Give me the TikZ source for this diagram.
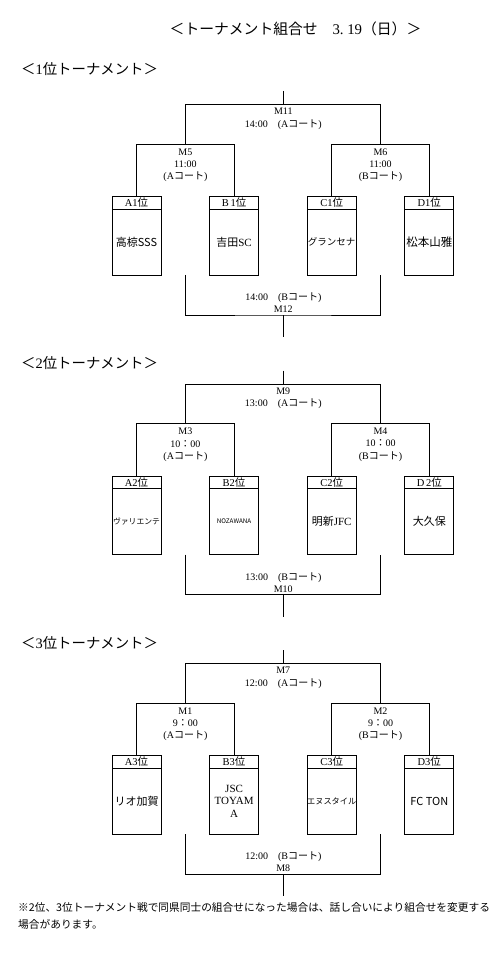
\documentclass[tikz,border=0pt]{standalone}
\usepackage{fontspec}
\setmainfont{Liberation Serif}
\newfontfamily\jpfont{Noto Sans CJK JP}
\newcommand\jp[1]{{\jpfont #1}}
\usetikzlibrary{positioning,calc}
\tikzset{
	bracket/.style={line width=0.9pt},
	teambox/.style={draw,line width=0.9pt,minimum width=49pt,minimum height=78.5pt,
		inner sep=0pt,outer sep=0pt},
	seed/.style={inner sep=0pt,font=\fontsize{10.5}{12}\selectfont},
	team/.style={inner sep=0pt,align=center},
	match/.style={inner sep=0pt,align=center,font=\fontsize{10}{12.3}\selectfont},
	heading/.style={anchor=west,inner sep=0pt,font=\fontsize{14.4}{16}\selectfont},
	note/.style={anchor=north west,inner sep=0pt,align=left,font=\fontsize{10.7}{17.7}\selectfont}
}

\begin{document}
\begin{tikzpicture}[x=1pt,y=-1pt]
	\useasboundingbox (0,0) rectangle (503,957);
	\node[inner sep=0pt,font=\fontsize{14.8}{16}\selectfont] (title) at (295.5,29)
		{\jp{＜トーナメント組合せ　}3.\ 19\jp{（日）＞}};
	\node[heading] (head1) at (21,69) {\jp{＜}1\jp{位トーナメント＞}};
	\node[heading] (head2) at (21,363) {\jp{＜}2\jp{位トーナメント＞}};
	\node[heading] (head3) at (21,643) {\jp{＜}3\jp{位トーナメント＞}};
	% teams, one scope per tournament
	\begin{scope}
		\foreach \i/\n/\s/\t/\f in {0/A/{A1\jp{位}}/{\jp{高椋}\jp{SSS}}/11,
				1/B/{B\,1\jp{位}}/{\jp{吉田}SC}/11,
				2/C/{C1\jp{位}}/{\jp{グランセナ}}/9.5,
				3/D/{D1\jp{位}}/{\jp{松本山雅}}/11.5} {
			\node[teambox] (1\n) at ({136.5+97.6*\i},235.75) {};
			\draw[bracket] ([yshift=-12.5pt]1\n.north west) -- ([yshift=-12.5pt]1\n.north east);
			\node[seed] (1\n-seed) at ([yshift=-6.3pt]1\n.north) {\s};
			\node[team,font=\fontsize{\f}{12.5}\selectfont] (1\n-team) at ([yshift=-6.3pt]1\n.center) {\t};
		}
	\end{scope}
	\begin{scope}[yshift=-279.6pt]
		\foreach \i/\n/\s/\t/\f in {0/A/{A2\jp{位}}/{\jp{ヴァリエンテ}}/7.8,
				1/B/{B2\jp{位}}/{\jp{NOZAWANA}}/6.3,
				2/C/{C2\jp{位}}/{\jp{明新}JFC}/11,
				3/D/{D\,2\jp{位}}/{\jp{大久保}}/11} {
			\node[teambox] (2\n) at ({136.5+97.6*\i},235.75) {};
			\draw[bracket] ([yshift=-12.5pt]2\n.north west) -- ([yshift=-12.5pt]2\n.north east);
			\node[seed] (2\n-seed) at ([yshift=-6.3pt]2\n.north) {\s};
			\node[team,font=\fontsize{\f}{12.5}\selectfont] (2\n-team) at ([yshift=-6.3pt]2\n.center) {\t};
		}
	\end{scope}
	\begin{scope}[yshift=-559.2pt]
		\foreach \i/\n/\s/\t/\f in {0/A/{A3\jp{位}}/{\jp{リオ加賀}}/11,
				1/B/{B3\jp{位}}/{JSC\\TOYAM\\A}/11,
				2/C/{C3\jp{位}}/{\jp{エヌスタイル}}/8.2,
				3/D/{D3\jp{位}}/{\jp{FC TON}}/11} {
			\node[teambox] (3\n) at ({136.5+97.6*\i},235.75) {};
			\draw[bracket] ([yshift=-12.5pt]3\n.north west) -- ([yshift=-12.5pt]3\n.north east);
			\node[seed] (3\n-seed) at ([yshift=-6.3pt]3\n.north) {\s};
			\node[team,font=\fontsize{\f}{12.5}\selectfont] (3\n-team) at ([yshift=-6.3pt]3\n.center) {\t};
		}
	\end{scope}
	% brackets and match labels
	\foreach \s/\dy/\mt/\tt/\ml/\mr/\ts/\mb in {1/0/11/14:00/5/6/11:00/12,
			2/279.6/9/13:00/3/4/{10\jp{：}00}/10,
			3/559.2/7/12:00/1/2/{9\jp{：}00}/8} {
		\begin{scope}[yshift=-\dy pt]
			\coordinate (\s t) at (283.3,91);
			\coordinate (\s top) at (283.3,104.5);
			\coordinate (\s left) at (185.4,144.3);
			\coordinate (\s right) at (380.5,144.3);
			\coordinate (\s bot) at (283.3,315);
			\coordinate (\s b) at (283.3,337);
		\end{scope}
		\coordinate (\s bl) at (\s left |- \s A.south);
		\coordinate (\s br) at (\s right |- \s A.south);
		\draw[bracket] (\s t) -- (\s top);
		\draw[bracket] (\s left) |- (\s top) -| (\s right);
		\draw[bracket] (\s A.north) |- (\s left) -| (\s B.north);
		\draw[bracket] (\s C.north) |- (\s right) -| (\s D.north);
		\draw[bracket] (\s bl) |- (\s bot) -| (\s br);
		\draw[bracket] (\s bot) -- (\s b);
		\node[match,below=3.5pt of \s top] (M\mt) {M\mt\\\tt\jp{　}(A\jp{コート})};
		\node[match,below=4pt of \s left] (M\ml) {M\ml\\\ts\\(A\jp{コート})};
		\node[match,below=4pt of \s right] (M\mr) {M\mr\\\ts\\(B\jp{コート})};
		\node[match,above=2pt of \s bot] (M\mb) {\tt\jp{　}(B\jp{コート})\\M\mb};
	}
	\node[note] (note) at (18,902)
		{\jp{※2位、3位トーナメント戦で同県同士の組合せになった場合は、話し合いにより組合せを変更する}\\
		\jp{場合があります。}};
\end{tikzpicture}
\end{document}
